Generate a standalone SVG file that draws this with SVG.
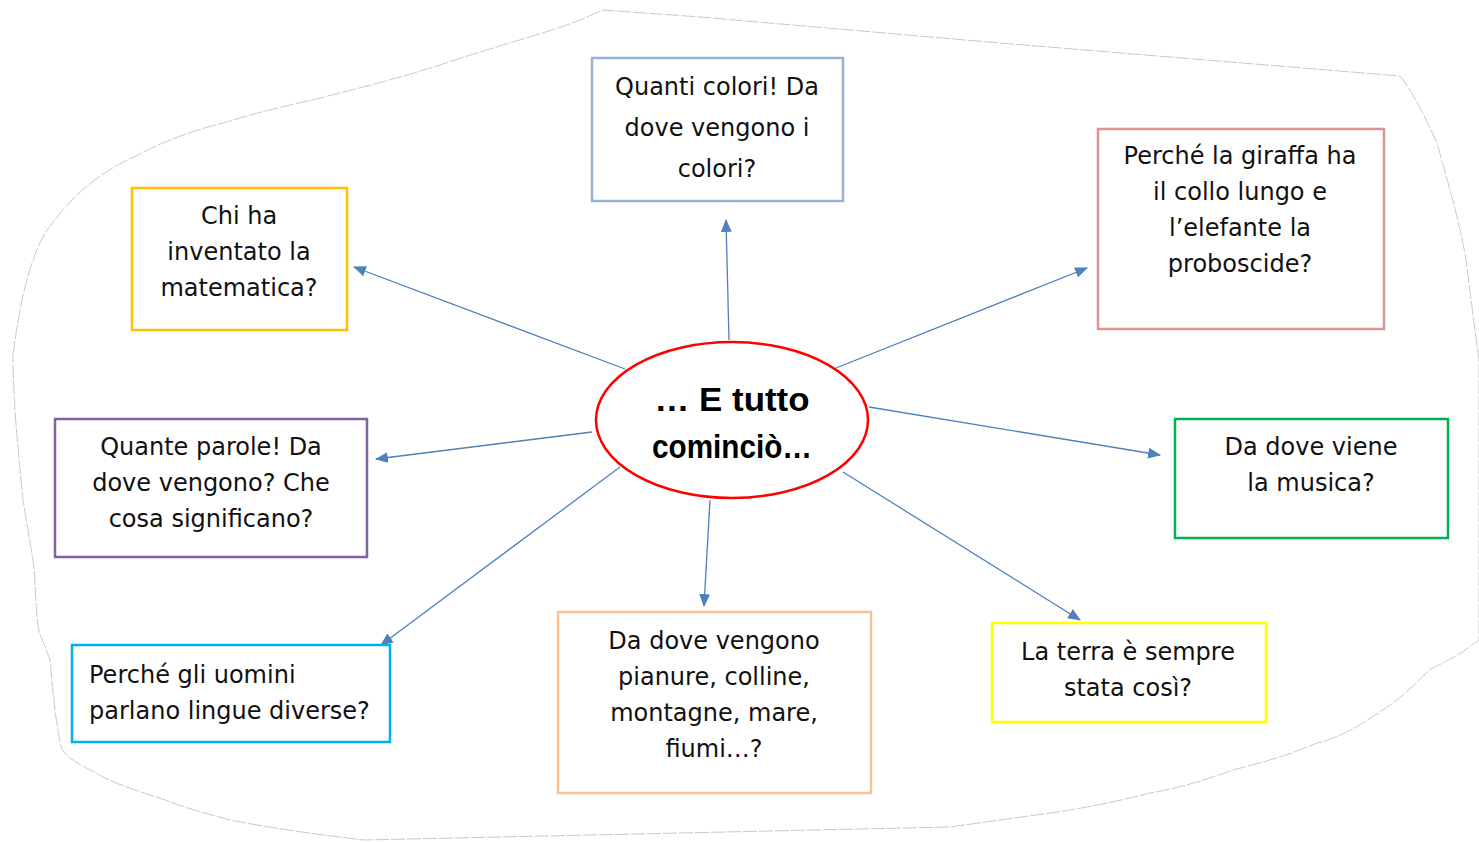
<svg xmlns="http://www.w3.org/2000/svg" width="1479" height="842" viewBox="0 0 1479 842">
<style>
.box{fill:#fff;stroke-width:2.5}
.t{font-family:"Comic Sans MS","DejaVu Sans",sans-serif;font-size:24px;fill:#111;text-anchor:middle}
.tl{text-anchor:start}
.c{font-family:"Comic Sans MS","Liberation Sans",sans-serif;font-size:34px;font-weight:bold;fill:#000;text-anchor:middle}
.e{fill:none;stroke:#4F81BD;stroke-width:1.3;marker-end:url(#ah)}
</style>
<defs>
<marker id="ah" viewBox="0 0 12 10" refX="11" refY="5" markerWidth="13" markerHeight="11" markerUnits="userSpaceOnUse" orient="auto">
<path d="M0,0 L12,5 L0,10 Z" fill="#4F81BD"/>
</marker>
</defs>
<rect width="1479" height="842" fill="#fff"/>
<path id="blob" d="M13,355 C20,300 30,260 45,233 C75,190 105,170 134,157 C165,140 195,130 223,123 C255,113 285,106 312,100 C360,88 400,78 446,63 C500,45 550,32 580,20 L603,10 L700,17 L1000,43 L1400,76 C1415,95 1425,117 1437,143 C1450,190 1462,230 1467,267 C1470,290 1473,317 1479,360 L1479,640 C1460,655 1445,662 1429,670 C1410,690 1398,700 1383,710 C1360,725 1340,738 1317,743 C1290,755 1260,763 1233,770 C1205,780 1180,788 1150,793 C1115,802 1085,808 1050,813 L950,827 L364,840 C320,835 270,828 230,820 C205,813 185,808 165,800 C135,790 110,782 96,773 C80,765 65,757 61,747 C58,730 55,715 54,700 C52,685 51,670 50,660 C45,645 40,637 38,627 C36,605 35,585 34,567 C30,540 26,520 23,500 C18,450 13,400 13,355 Z" fill="#fff" stroke="#bbb" stroke-width="0.8" stroke-dasharray="14 2"/>
<g id="connectors">
<line class="e" x1="729" y1="340" x2="726" y2="220"/>
<line class="e" x1="625" y1="369" x2="354" y2="267"/>
<line class="e" x1="836" y1="368" x2="1087" y2="268"/>
<line class="e" x1="592" y1="432" x2="376" y2="459"/>
<line class="e" x1="869" y1="407" x2="1160" y2="455"/>
<line class="e" x1="620" y1="467" x2="381" y2="645"/>
<line class="e" x1="710" y1="500" x2="704" y2="606"/>
<line class="e" x1="843" y1="472" x2="1080" y2="620"/>
</g>
<g id="center">
<ellipse cx="732" cy="420" rx="136" ry="78" fill="#fff" stroke="#FF0000" stroke-width="2.5"/>
<text class="c" x="732" y="411" textLength="155" lengthAdjust="spacingAndGlyphs">… E tutto</text>
<text class="c" x="732" y="458" textLength="160" lengthAdjust="spacingAndGlyphs">cominciò…</text>
</g>
<g id="n-colori">
<rect class="box" x="592" y="58" width="251" height="143" stroke="#95B3D7"/>
<text class="t" x="717" y="95">Quanti colori! Da</text>
<text class="t" x="717" y="136">dove vengono i</text>
<text class="t" x="717" y="177">colori?</text>
</g>
<g id="n-matematica">
<rect class="box" x="132" y="188" width="215" height="142" stroke="#FFC000"/>
<text class="t" x="239" y="224">Chi ha</text>
<text class="t" x="239" y="260">inventato la</text>
<text class="t" x="239" y="296">matematica?</text>
</g>
<g id="n-giraffa">
<rect class="box" x="1098" y="129" width="286" height="200" stroke="#D99694"/>
<text class="t" x="1240" y="164">Perché la giraffa ha</text>
<text class="t" x="1240" y="200">il collo lungo e</text>
<text class="t" x="1240" y="236">l’elefante la</text>
<text class="t" x="1240" y="272">proboscide?</text>
</g>
<g id="n-parole">
<rect class="box" x="55" y="419" width="312" height="138" stroke="#8064A2"/>
<text class="t" x="211" y="455">Quante parole! Da</text>
<text class="t" x="211" y="491">dove vengono? Che</text>
<text class="t" x="211" y="527">cosa significano?</text>
</g>
<g id="n-musica">
<rect class="box" x="1175" y="419" width="273" height="119" stroke="#00B050"/>
<text class="t" x="1311" y="455">Da dove viene</text>
<text class="t" x="1311" y="491">la musica?</text>
</g>
<g id="n-lingue">
<rect class="box" x="72" y="645" width="318" height="97" stroke="#00B0F0"/>
<text class="t tl" x="89" y="683">Perché gli uomini</text>
<text class="t tl" x="89" y="719">parlano lingue diverse?</text>
</g>
<g id="n-pianure">
<rect class="box" x="558" y="612" width="313" height="181" stroke="#FAC090"/>
<text class="t" x="714" y="649">Da dove vengono</text>
<text class="t" x="714" y="685">pianure, colline,</text>
<text class="t" x="714" y="721">montagne, mare,</text>
<text class="t" x="714" y="757">fiumi…?</text>
</g>
<g id="n-terra">
<rect class="box" x="992" y="623" width="274" height="99" stroke="#FFFF00"/>
<text class="t" x="1128" y="660">La terra è sempre</text>
<text class="t" x="1128" y="696">stata così?</text>
</g>
</svg>
